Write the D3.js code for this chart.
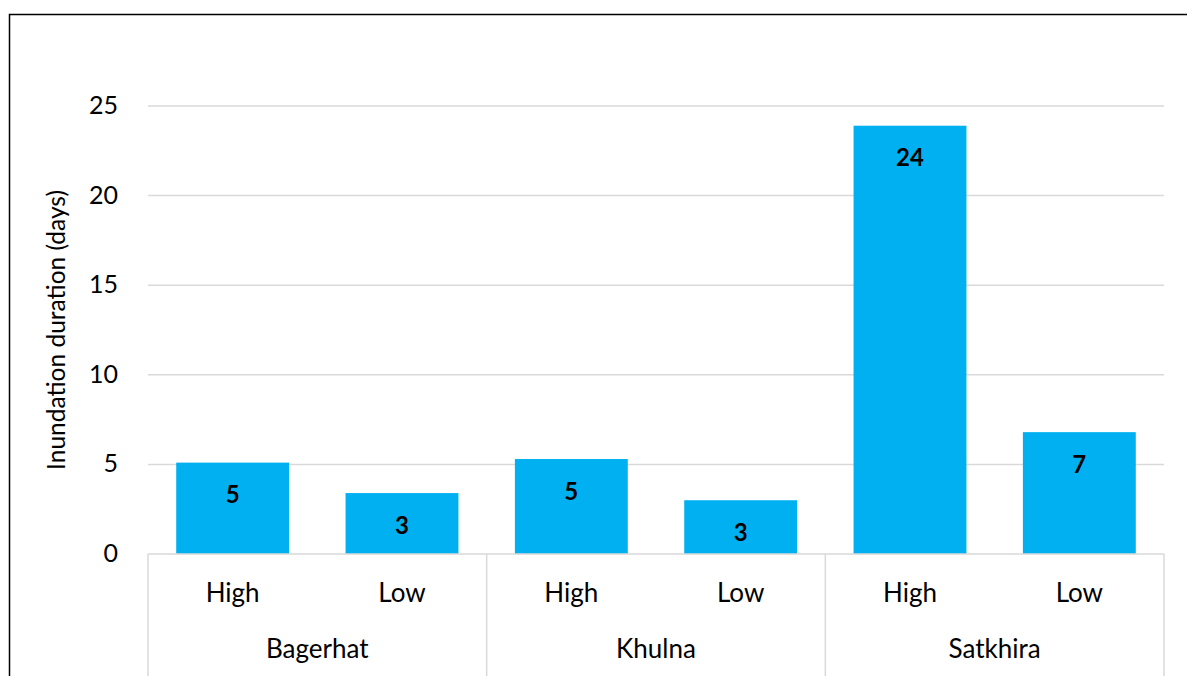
<!DOCTYPE html>
<html>
<head>
<meta charset="utf-8">
<script src="https://cdn.jsdelivr.net/npm/d3@7"></script>
<style>
  html, body { margin: 0; padding: 0; background: #fff; }
  svg { display: block; font-family: Lato, "Open Sans", sans-serif; }
</style>
</head>
<body>
<svg id="chart" width="1187" height="676"></svg>
<script>
// Inundation duration by district and elevation class
const districts = ["Bagerhat", "Khulna", "Satkhira"];
const levels = ["High", "Low"];
const durations = [5.1, 3.4, 5.3, 3.0, 23.9, 6.8];
const yTicks = [0, 5, 10, 15, 20, 25];
const yTitle = "Inundation duration (days)";

const rows = [];
districts.forEach((d, i) => levels.forEach((l, j) => {
  rows.push({ district: d, level: l, key: d + "|" + l, value: durations[i * levels.length + j] });
}));

const svg = d3.select("#chart");
const W = 1187, H = 676;
const plot = { left: 148, right: 1164, top: 106, bottom: 554 };

// outer frame
svg.append("rect")
  .attr("x", 9.5).attr("y", 14.5)
  .attr("width", W + 20).attr("height", H + 20)
  .attr("fill", "none").attr("stroke", "#000").attr("stroke-width", 1.5);

const x = d3.scaleBand()
  .domain(rows.map(r => r.key))
  .range([plot.left, plot.right])
  .paddingInner(1 / 3)
  .paddingOuter(1 / 6);

const y = d3.scaleLinear().domain([0, 25]).range([plot.bottom, plot.top]);

// horizontal gridlines
svg.append("g").selectAll("line")
  .data(yTicks.filter(t => t > 0))
  .join("line")
  .attr("x1", plot.left).attr("x2", plot.right)
  .attr("y1", d => y(d)).attr("y2", d => y(d))
  .attr("stroke", "#d9d9d9").attr("stroke-width", 1.5);

// y tick labels
const yAxis = svg.append("g")
  .attr("transform", `translate(${plot.left},0)`)
  .call(d3.axisLeft(y).tickValues(yTicks).tickSize(0).tickPadding(30));
yAxis.select(".domain").remove();
yAxis.selectAll("text")
  .attr("font-size", 25).attr("fill", "#000")
  .attr("dy", "0.3em")
  .style("font-family", "Lato, 'Open Sans', sans-serif");

// y axis title
svg.append("text")
  .attr("transform", `translate(55,${(plot.top + plot.bottom) / 2}) rotate(-90)`)
  .attr("text-anchor", "middle")
  .attr("dominant-baseline", "central")
  .attr("font-size", 24.5)
  .text(yTitle);

// bars
svg.append("g").selectAll("rect")
  .data(rows)
  .join("rect")
  .attr("x", d => x(d.key))
  .attr("width", x.bandwidth())
  .attr("y", d => y(d.value))
  .attr("height", d => y(0) - y(d.value))
  .attr("fill", "#00b0f0");

// value labels
svg.append("g").selectAll("text")
  .data(rows)
  .join("text")
  .attr("x", d => x(d.key) + x.bandwidth() / 2)
  .attr("y", d => y(d.value) + 31)
  .attr("text-anchor", "middle")
  .attr("dominant-baseline", "central")
  .attr("font-size", 24)
  .attr("font-weight", "bold")
  .text(d => d3.format(".0f")(d.value));

// category axis: baseline, separators, two label rows
const axisColor = "#d9d9d9";
svg.append("line")
  .attr("x1", plot.left).attr("x2", plot.right)
  .attr("y1", plot.bottom).attr("y2", plot.bottom)
  .attr("stroke", axisColor).attr("stroke-width", 1.5);

const step = x.step();
const groupW = step * levels.length;
const bounds = d3.range(districts.length + 1).map(i => plot.left + i * groupW);
svg.append("g").selectAll("line")
  .data(bounds)
  .join("line")
  .attr("x1", d => d).attr("x2", d => d)
  .attr("y1", plot.bottom).attr("y2", H)
  .attr("stroke", axisColor).attr("stroke-width", 1.5);

svg.append("g").selectAll("text")
  .data(rows)
  .join("text")
  .attr("x", d => x(d.key) + x.bandwidth() / 2)
  .attr("y", 592)
  .attr("text-anchor", "middle")
  .attr("dominant-baseline", "central")
  .attr("font-size", 26)
  .text(d => d.level);

svg.append("g").selectAll("text")
  .data(districts)
  .join("text")
  .attr("x", (d, i) => plot.left + (i + 0.5) * groupW)
  .attr("y", 648)
  .attr("text-anchor", "middle")
  .attr("dominant-baseline", "central")
  .attr("font-size", 26)
  .text(d => d);
</script>
</body>
</html>
